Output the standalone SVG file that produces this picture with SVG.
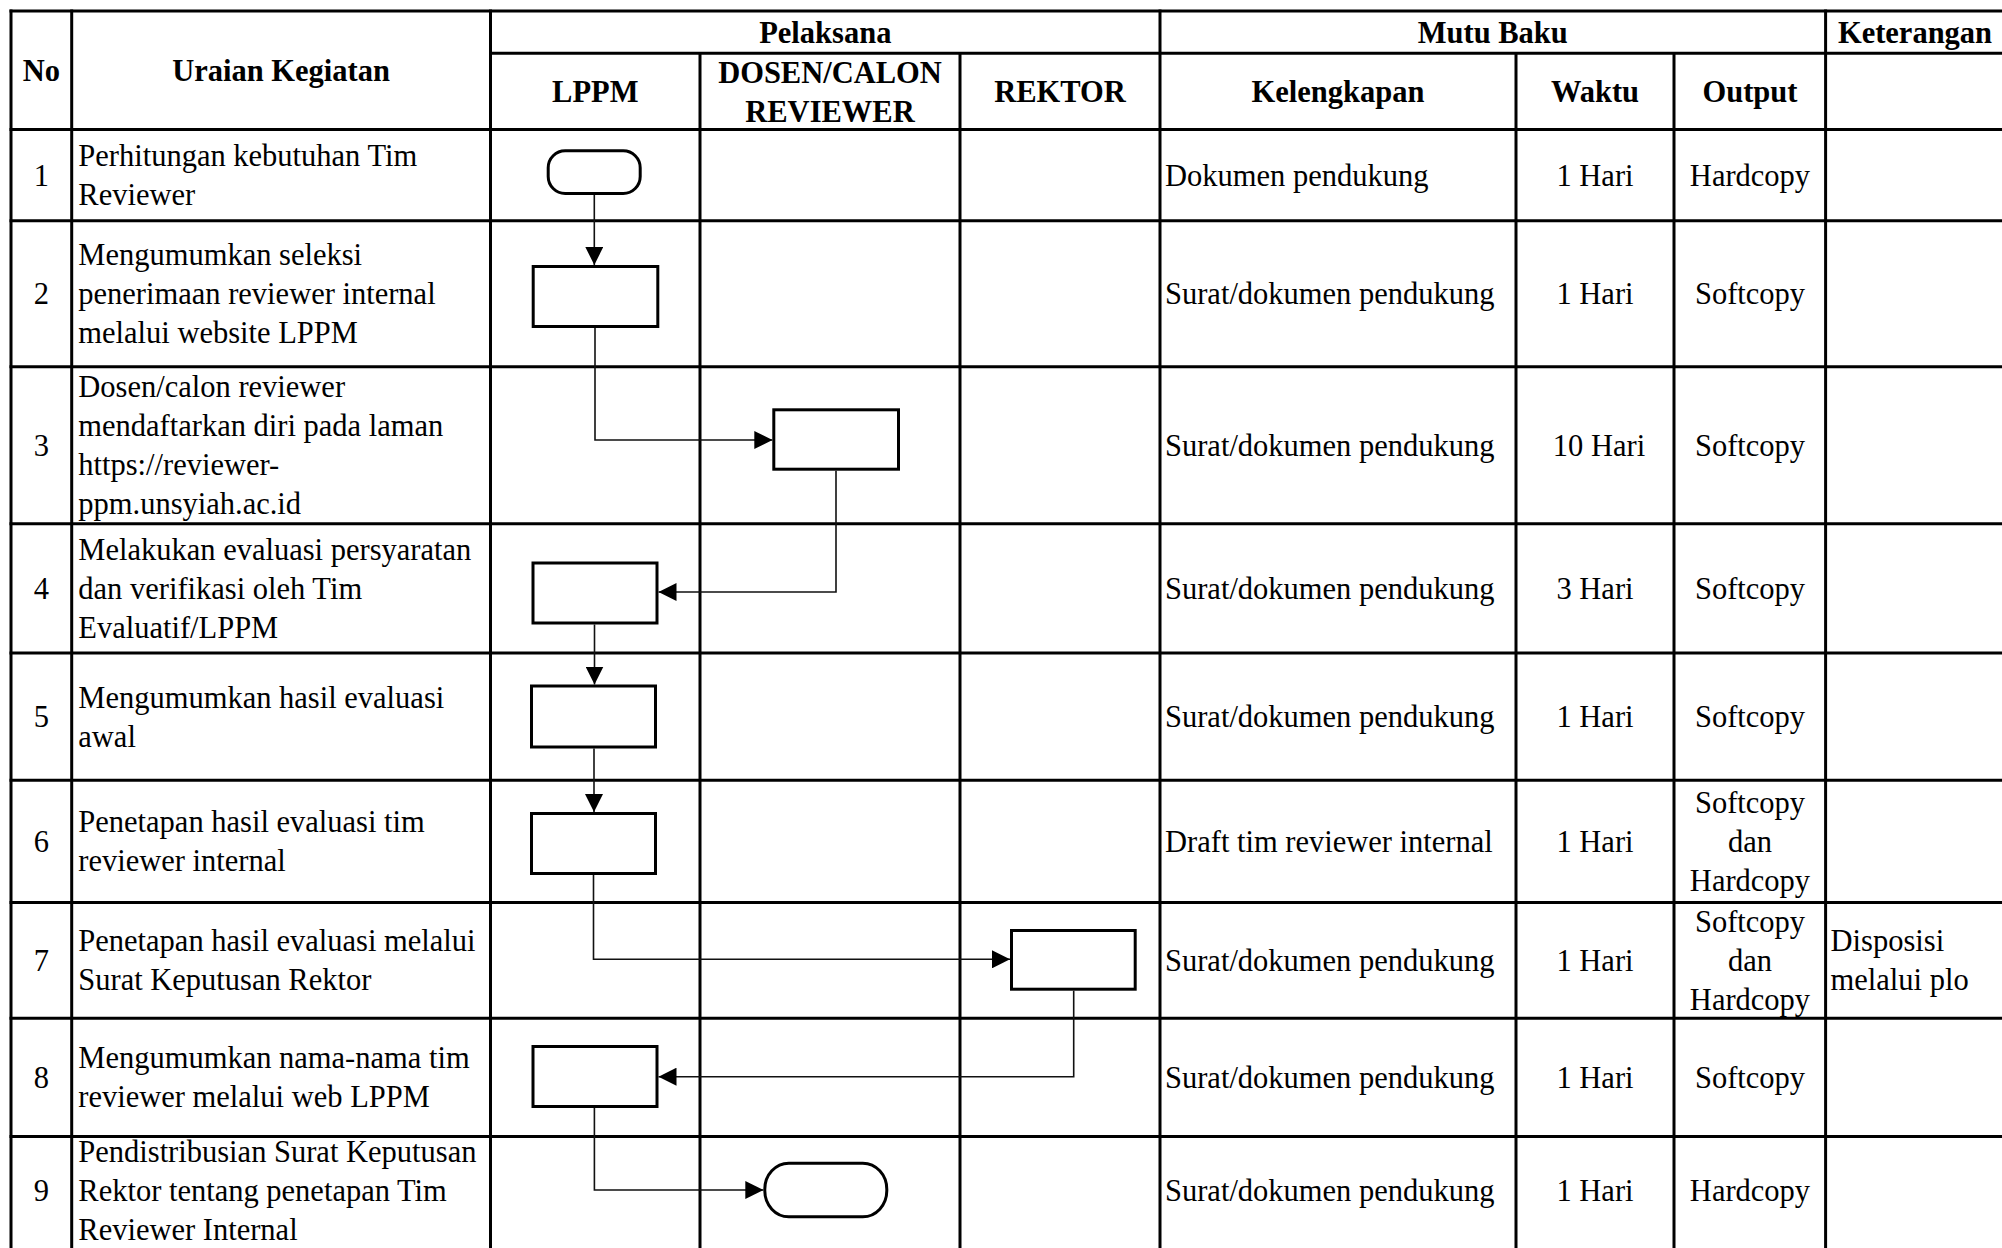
<svg xmlns="http://www.w3.org/2000/svg" width="2002" height="1248" viewBox="0 0 2002 1248">
<style>
  .grid line { stroke: #000; stroke-width: 3; }
  .t { font-family: "Liberation Serif", "Times New Roman", serif; font-size: 30.5px; fill: #000; }
  .b { font-weight: bold; }
  .c { text-anchor: middle; }
  .shape { fill: #fff; stroke: #000; stroke-width: 3; }
  .conn { fill: none; stroke: #111; stroke-width: 1.6; marker-end: url(#arrow); }
</style>
<defs>
  <marker id="arrow" markerUnits="userSpaceOnUse" markerWidth="18" markerHeight="18" refX="18" refY="9" orient="auto">
    <path d="M0,0 L18,9 L0,18 Z" fill="#000"/>
  </marker>
</defs>
<rect width="2002" height="1248" fill="#fff"/>

<g id="table-grid" class="grid">
  <line x1="9.5" y1="11" x2="2002" y2="11"/>
  <line x1="490.5" y1="53.3" x2="2002" y2="53.3"/>
  <line x1="9.5" y1="129.5" x2="2002" y2="129.5"/>
  <line x1="9.5" y1="220.7" x2="2002" y2="220.7"/>
  <line x1="9.5" y1="366.7" x2="2002" y2="366.7"/>
  <line x1="9.5" y1="523.7" x2="2002" y2="523.7"/>
  <line x1="9.5" y1="653" x2="2002" y2="653"/>
  <line x1="9.5" y1="780.3" x2="2002" y2="780.3"/>
  <line x1="9.5" y1="902.5" x2="2002" y2="902.5"/>
  <line x1="9.5" y1="1018.3" x2="2002" y2="1018.3"/>
  <line x1="9.5" y1="1136.5" x2="2002" y2="1136.5"/>
  <line x1="11" y1="9.5" x2="11" y2="1248"/>
  <line x1="71.7" y1="9.5" x2="71.7" y2="1248"/>
  <line x1="490.5" y1="9.5" x2="490.5" y2="1248"/>
  <line x1="700" y1="53.3" x2="700" y2="1248"/>
  <line x1="960" y1="53.3" x2="960" y2="1248"/>
  <line x1="1160" y1="9.5" x2="1160" y2="1248"/>
  <line x1="1516" y1="53.3" x2="1516" y2="1248"/>
  <line x1="1674" y1="53.3" x2="1674" y2="1248"/>
  <line x1="1825.6" y1="9.5" x2="1825.6" y2="1248"/>
</g>

<g id="header" class="t b">
  <text class="c" x="41.3" y="80.7">No</text>
  <text class="c" x="281" y="80.7">Uraian Kegiatan</text>
  <text class="c" x="825.3" y="42.7">Pelaksana</text>
  <text class="c" x="1492.8" y="42.7">Mutu Baku</text>
  <text class="c" x="1915" y="42.7">Keterangan</text>
  <text class="c" x="595.3" y="102">LPPM</text>
  <text class="c" x="830" y="83">DOSEN/CALON</text>
  <text class="c" x="830" y="122">REVIEWER</text>
  <text class="c" x="1060" y="102">REKTOR</text>
  <text class="c" x="1338" y="102">Kelengkapan</text>
  <text class="c" x="1595" y="102">Waktu</text>
  <text class="c" x="1750" y="102">Output</text>
</g>

<g id="col-no" class="t c">
  <text x="41.3" y="185.6">1</text>
  <text x="41.3" y="304.2">2</text>
  <text x="41.3" y="455.7">3</text>
  <text x="41.3" y="598.8">4</text>
  <text x="41.3" y="727.1">5</text>
  <text x="41.3" y="851.9">6</text>
  <text x="41.3" y="970.9">7</text>
  <text x="41.3" y="1087.9">8</text>
  <text x="41.3" y="1200.8">9</text>
</g>

<g id="col-uraian" class="t">
  <text x="78.3" y="166.1">Perhitungan kebutuhan Tim</text>
  <text x="78.3" y="205.1">Reviewer</text>
  <text x="78.3" y="265.2">Mengumumkan seleksi</text>
  <text x="78.3" y="304.2">penerimaan reviewer internal</text>
  <text x="78.3" y="343.2">melalui website LPPM</text>
  <text x="78.3" y="397.2">Dosen/calon reviewer</text>
  <text x="78.3" y="436.2">mendaftarkan diri pada laman</text>
  <text x="78.3" y="475.2">https://reviewer-</text>
  <text x="78.3" y="514.2">ppm.unsyiah.ac.id</text>
  <text x="78.3" y="559.8">Melakukan evaluasi persyaratan</text>
  <text x="78.3" y="598.8">dan verifikasi oleh Tim</text>
  <text x="78.3" y="637.8">Evaluatif/LPPM</text>
  <text x="78.3" y="707.6">Mengumumkan hasil evaluasi</text>
  <text x="78.3" y="746.6">awal</text>
  <text x="78.3" y="832.4">Penetapan hasil evaluasi tim</text>
  <text x="78.3" y="871.4">reviewer internal</text>
  <text x="78.3" y="951.4">Penetapan hasil evaluasi melalui</text>
  <text x="78.3" y="990.4">Surat Keputusan Rektor</text>
  <text x="78.3" y="1068.4">Mengumumkan nama-nama tim</text>
  <text x="78.3" y="1107.4">reviewer melalui web LPPM</text>
  <text x="78.3" y="1161.8">Pendistribusian Surat Keputusan</text>
  <text x="78.3" y="1200.8">Rektor tentang penetapan Tim</text>
  <text x="78.3" y="1239.8">Reviewer Internal</text>
</g>

<g id="col-kelengkapan" class="t">
  <text x="1165" y="185.6">Dokumen pendukung</text>
  <text x="1165" y="304.2">Surat/dokumen pendukung</text>
  <text x="1165" y="455.7">Surat/dokumen pendukung</text>
  <text x="1165" y="598.8">Surat/dokumen pendukung</text>
  <text x="1165" y="727.1">Surat/dokumen pendukung</text>
  <text x="1165" y="851.9">Draft tim reviewer internal</text>
  <text x="1165" y="970.9">Surat/dokumen pendukung</text>
  <text x="1165" y="1087.9">Surat/dokumen pendukung</text>
  <text x="1165" y="1200.8">Surat/dokumen pendukung</text>
</g>

<g id="col-waktu" class="t c">
  <text x="1595" y="185.6">1 Hari</text>
  <text x="1595" y="304.2">1 Hari</text>
  <text x="1599" y="455.7">10 Hari</text>
  <text x="1595" y="598.8">3 Hari</text>
  <text x="1595" y="727.1">1 Hari</text>
  <text x="1595" y="851.9">1 Hari</text>
  <text x="1595" y="970.9">1 Hari</text>
  <text x="1595" y="1087.9">1 Hari</text>
  <text x="1595" y="1200.8">1 Hari</text>
</g>

<g id="col-output" class="t c">
  <text x="1750" y="185.6">Hardcopy</text>
  <text x="1750" y="304.2">Softcopy</text>
  <text x="1750" y="455.7">Softcopy</text>
  <text x="1750" y="598.8">Softcopy</text>
  <text x="1750" y="727.1">Softcopy</text>
  <text x="1750" y="812.9">Softcopy</text>
  <text x="1750" y="851.9">dan</text>
  <text x="1750" y="890.9">Hardcopy</text>
  <text x="1750" y="931.9">Softcopy</text>
  <text x="1750" y="970.9">dan</text>
  <text x="1750" y="1009.9">Hardcopy</text>
  <text x="1750" y="1087.9">Softcopy</text>
  <text x="1750" y="1200.8">Hardcopy</text>
</g>

<g id="col-keterangan" class="t">
  <text x="1830.6" y="951.4">Disposisi</text>
  <text x="1830.6" y="990.4">melalui plo</text>
</g>

<g id="connectors">
  <path class="conn" d="M594.3,195 V265"/>
  <path class="conn" d="M595,328 V440 H772.3"/>
  <path class="conn" d="M836,470.7 V592 H658.5"/>
  <path class="conn" d="M594.5,624.5 V684.5"/>
  <path class="conn" d="M594,748.5 V812"/>
  <path class="conn" d="M593.5,875 V959.3 H1010"/>
  <path class="conn" d="M1073.7,990.7 V1076.7 H658.5"/>
  <path class="conn" d="M594.4,1108 V1190 H763.3"/>
</g>

<g id="node-1"><rect class="shape" x="548.2" y="150.8" width="92" height="42.7" rx="17" ry="17"/></g>
<g id="node-2"><rect class="shape" x="533.2" y="266.5" width="124.6" height="60"/></g>
<g id="node-3"><rect class="shape" x="773.8" y="409.8" width="124.7" height="59.4"/></g>
<g id="node-4"><rect class="shape" x="533" y="563" width="124" height="60"/></g>
<g id="node-5"><rect class="shape" x="531.5" y="686" width="124" height="61"/></g>
<g id="node-6"><rect class="shape" x="531.5" y="813.5" width="124" height="60"/></g>
<g id="node-7"><rect class="shape" x="1011.5" y="930.5" width="123.7" height="58.7"/></g>
<g id="node-8"><rect class="shape" x="533" y="1046.5" width="124" height="60"/></g>
<g id="node-9"><rect class="shape" x="764.8" y="1163.2" width="122" height="53.6" rx="24" ry="26"/></g>
</svg>
